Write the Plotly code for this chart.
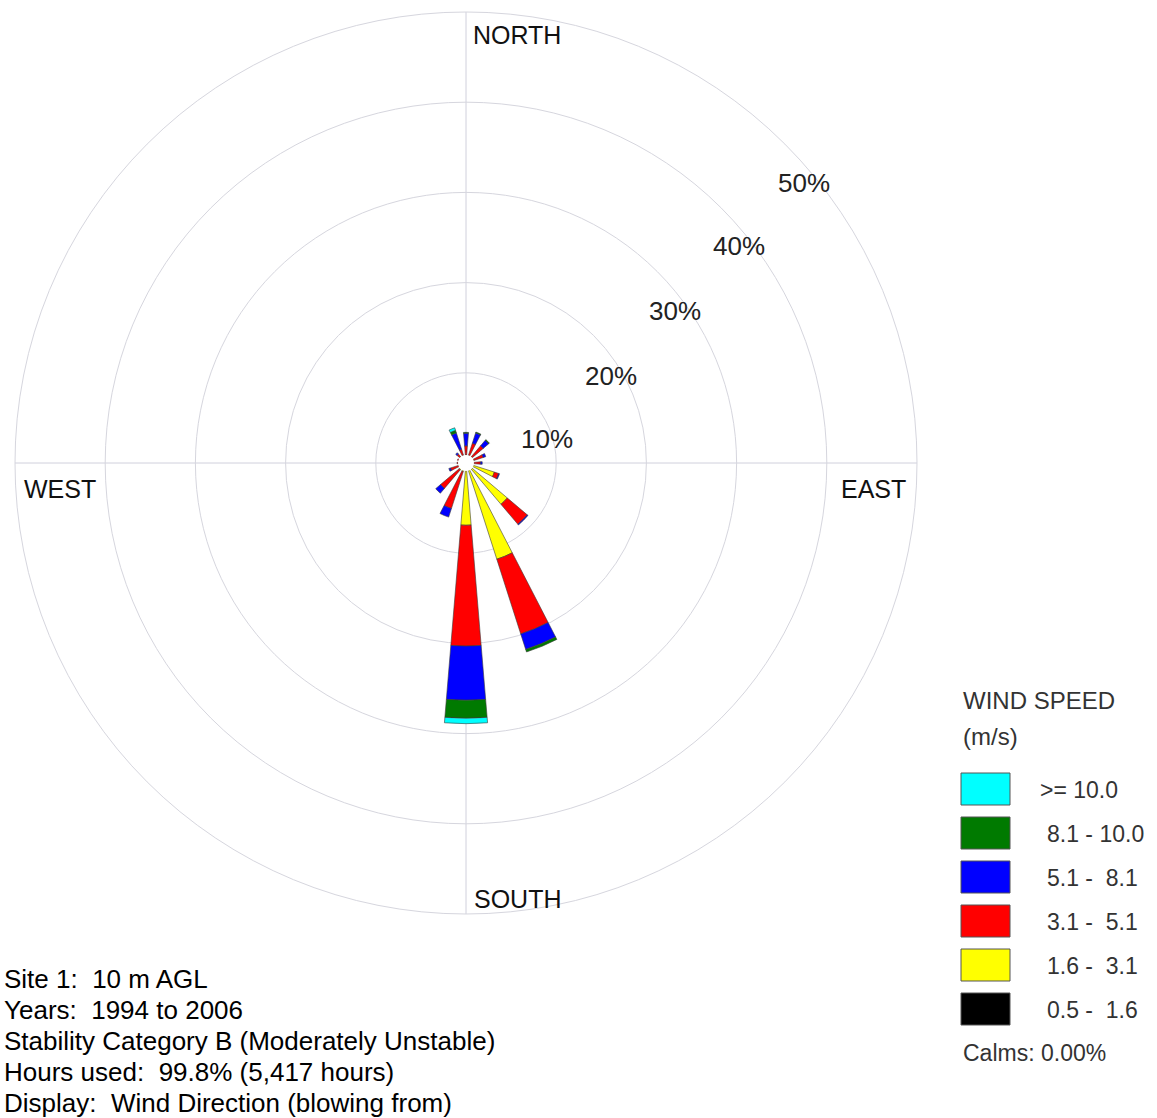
import plotly.graph_objects as go

W, H = 1157, 1118

directions = ["N", "NNE", "NE", "ENE", "E", "ESE", "SE", "SSE",
              "S", "SSW", "SW", "WSW", "W", "WNW", "NW", "NNW"]

# percent frequency per speed class (stacked from centre)
speed_05_16 = [0, 0, 0, 0, 0, 0, 0, 0, 0, 0, 0, 0, 0, 0, 0, 0]
speed_16_31 = [0.9, 0.9, 0.9, 0.9, 0.8, 3.3, 6.0, 11.2, 6.9, 1.0, 1.0, 0.8, 0.6, 0.7, 0.9, 0.9]
speed_31_51 = [1.0, 1.4, 1.6, 1.1, 0.8, 0.5, 2.9, 8.7, 13.4, 4.3, 2.7, 1.0, 0.4, 0.3, 0.4, 0.7]
speed_51_81 = [1.4, 1.2, 0.8, 0.3, 0.2, 0.1, 0.1, 1.8, 6.0, 1.0, 0.7, 0.2, 0.0, 0.0, 0.2, 1.9]
speed_81_100 = [0.1, 0.1, 0.1, 0.0, 0.0, 0.0, 0.0, 0.3, 2.0, 0.0, 0.0, 0.0, 0.0, 0.0, 0.0, 0.3]
speed_ge_10 = [0.0, 0.0, 0.0, 0.0, 0.0, 0.0, 0.0, 0.0, 0.6, 0.0, 0.0, 0.0, 0.0, 0.0, 0.0, 0.3]

class_labels = ["0.5 -  1.6", "1.6 -  3.1", "3.1 -  5.1", "5.1 -  8.1", "8.1 - 10.0", ">= 10.0"]
class_colors = ["#000000", "#FFFF00", "#FF0000", "#0000FF", "#007A00", "#00FFFF"]
class_values = [speed_05_16, speed_16_31, speed_31_51, speed_51_81, speed_81_100, speed_ge_10]

ring_vals = [10, 20, 30, 40, 50]
ring_labels = ["10%", "20%", "30%", "40%", "50%"]
compass_labels = ["NORTH", "EAST", "SOUTH", "WEST"]

info_lines = ["Site 1:  10 m AGL",
              "Years:  1994 to 2006",
              "Stability Category B (Moderately Unstable)",
              "Hours used:  99.8% (5,417 hours)",
              "Display:  Wind Direction (blowing from)"]
calms_text = "Calms: 0.00%"

theta = [i * 360 / len(directions) for i in range(len(directions))]

FONT = "Liberation Sans, Arial, sans-serif"


def px(x, y):
    return x / W, 1 - y / H


fig = go.Figure()
for vals, col, lab in zip(class_values, class_colors, class_labels):
    fig.add_trace(go.Barpolar(
        r=vals, theta=theta, width=[9.5] * len(theta), name=lab,
        marker=dict(color=col, line=dict(color="#3a3a3a", width=0.6)),
        showlegend=False, hovertext=directions))

# centre / domain in pixels
cx, cy, R = 466, 463, 451
x0, y0 = px(cx - R, cy + R)
x1, y1 = px(cx + R, cy - R)

fig.update_layout(
    width=W, height=H,
    margin=dict(l=0, r=0, t=0, b=0),
    paper_bgcolor="white", plot_bgcolor="white",
    barmode="stack",
    polar=dict(
        domain=dict(x=[x0, x1], y=[y0, y1]),
        bgcolor="white",
        bargap=0,
        radialaxis=dict(range=[0, 50], tickvals=ring_vals, showticklabels=False,
                        ticks="", showline=False, gridcolor="#d6d6de", gridwidth=1),
        angularaxis=dict(rotation=90, direction="clockwise", tickvals=[0, 90, 180, 270],
                         showticklabels=False, ticks="", gridcolor="#d0d0dc", gridwidth=1,
                         showline=True, linecolor="#d6d6de", linewidth=1),
    ),
    font=dict(family=FONT),
)

shapes = []
# white calm circle at centre
cr = 8
a, b = px(cx - cr, cy + cr)
c, d = px(cx + cr, cy - cr)
shapes.append(dict(type="circle", xref="paper", yref="paper", x0=a, y0=b, x1=c, y1=d,
                   fillcolor="white", line=dict(width=0), layer="above"))

annotations = []
# ring labels
ring_pos = [(547, 438), (611, 375), (675, 310), (739, 245), (804, 182)]
for lab, (x, y) in zip(ring_labels, ring_pos):
    ax, ay = px(x, y + 1)
    annotations.append(dict(x=ax, y=ay, xref="paper", yref="paper", text=lab, showarrow=False,
                            font=dict(size=26, color="#222222", family=FONT),
                            xanchor="center", yanchor="middle"))
# compass labels
comp_pos = [(517, 34), (873, 488), (518, 898), (60, 488)]
for lab, (x, y) in zip(compass_labels, comp_pos):
    ax, ay = px(x, y + 1)
    annotations.append(dict(x=ax, y=ay, xref="paper", yref="paper", text=lab, showarrow=False,
                            font=dict(size=25, color="#111111", family=FONT),
                            xanchor="center", yanchor="middle"))

# legend title
for txt, y in [("WIND SPEED", 699), ("(m/s)", 735)]:
    ax, ay = px(961, y + 1)
    annotations.append(dict(x=ax, y=ay, xref="paper", yref="paper", text=txt, showarrow=False,
                            font=dict(size=24, color="#333333", family=FONT),
                            xanchor="left", yanchor="middle"))

# legend boxes: top = >=10.0 down to 0.5-1.6
leg_order = list(range(len(class_labels)))[::-1]
for k, idx in enumerate(leg_order):
    yc = 789 + 44 * k
    a, b = px(961, yc + 16)
    c, d = px(1010, yc - 16)
    shapes.append(dict(type="rect", xref="paper", yref="paper", x0=a, y0=b, x1=c, y1=d,
                       fillcolor=class_colors[idx], line=dict(color="#555555", width=1)))
    lx = 1038 if class_labels[idx].startswith(">") else 1045
    ax, ay = px(lx, yc + 1)
    annotations.append(dict(x=ax, y=ay, xref="paper", yref="paper", text=class_labels[idx].replace("  ", "&nbsp; "),
                            showarrow=False, font=dict(size=23, color="#333333", family=FONT),
                            xanchor="left", yanchor="middle"))

ax, ay = px(961, 1053)
annotations.append(dict(x=ax, y=ay, xref="paper", yref="paper", text=calms_text, showarrow=False,
                        font=dict(size=23, color="#333333", family=FONT),
                        xanchor="left", yanchor="middle"))

# info text at bottom-left
for i, line in enumerate(info_lines):
    ax, ay = px(2, 979 + 31 * i)
    annotations.append(dict(x=ax, y=ay, xref="paper", yref="paper", text=line.replace("  ", "&nbsp; "),
                            showarrow=False, font=dict(size=26, color="#000000", family=FONT),
                            xanchor="left", yanchor="middle"))

fig.update_layout(shapes=shapes, annotations=annotations)
fig.write_html("out.html", config={"displayModeBar": False},
               post_script="document.body.style.margin='0px';document.body.style.overflow='hidden';")
